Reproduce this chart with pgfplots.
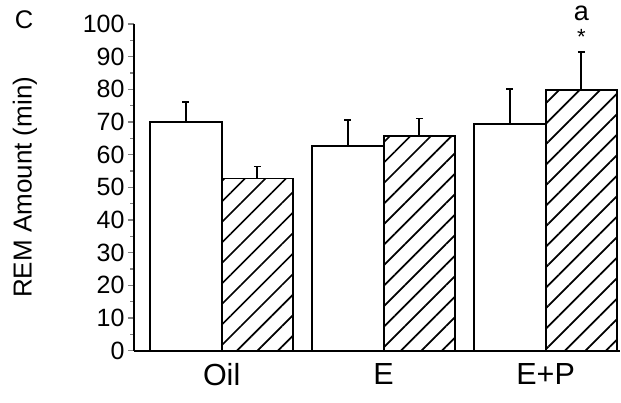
\documentclass[border=0pt]{standalone}
\usepackage{fontspec}
\setmainfont{Liberation Sans}
\usepackage{pgfplots}
\pgfplotsset{compat=1.18}
\usetikzlibrary{patterns.meta}
\begin{document}
\begin{tikzpicture}
\begin{axis}[
  scale only axis,
  width=486pt, height=326.7pt,
  xmin=-0.541, xmax=2.459,
  ymin=0, ymax=100,
  axis x line*=bottom, axis y line*=left,
  axis line style={line width=1.8pt},
  xtick={0,1,2}, xticklabels={Oil,E,E+P},
  xtick style={draw=none},
  xticklabel style={font=\fontsize{30.5}{32}\selectfont, yshift=-3pt},
  ytick={0,10,...,100},
  minor ytick={5,15,...,95},
  tick align=outside,
  major tick length=6pt, minor tick length=3.5pt,
  ytick style={line width=1.5pt},
  minor tick style={line width=1.5pt},
  yticklabel style={font=\fontsize{25}{26}\selectfont},
  /pgf/number format/assume math mode=true,
  ylabel={REM Amount (min)},
  ylabel style={font=\fontsize{26}{28}\selectfont, at={(axis description cs:-0.2243,0.5)}, anchor=center},
  ybar, bar width=0.441,
  clip=false,
  error bars/y dir=plus, error bars/y explicit,
  error bars/error bar style={line width=1.8pt, black},
  error bars/error mark options={line width=1.8pt, black, mark size=3.5pt, rotate=90},
]
\addplot[draw=black, fill=white, line width=1.8pt, bar shift=-0.2205,
  error bars/.cd, y dir=plus, y explicit]
  coordinates {(0,70) +- (0,6.2) (1,62.6) +- (0,7.9) (2,69.5) +- (0,10.5)};
\addplot[draw=black, line width=1.8pt, bar shift=0.2205,
  pattern={Lines[angle=45,distance=14.5pt,line width=1.7pt]},
  error bars/.cd, y dir=plus, y explicit]
  coordinates {(0,52.7) +- (0,3.7) (1,65.8) +- (0,5.3) (2,79.8) +- (0,11.6)};
\node[font=\fontsize{27}{28}\selectfont, inner sep=0pt, anchor=base] at (axis cs:2.2205,101.2) {a};
\node[font=\fontsize{22}{24}\selectfont, inner sep=0pt] at (axis cs:2.2205,96.0) {*};
\coordinate (O) at (rel axis cs:0,0);
\end{axis}
\node[font=\fontsize{25.5}{27}\selectfont] at ([xshift=-110pt,yshift=331pt]O) {C};
\pgfresetboundingbox
\path ([xshift=-134pt,yshift=-52.3pt]O) rectangle ([xshift=487pt,yshift=350.7pt]O);
\end{tikzpicture}
\end{document}
